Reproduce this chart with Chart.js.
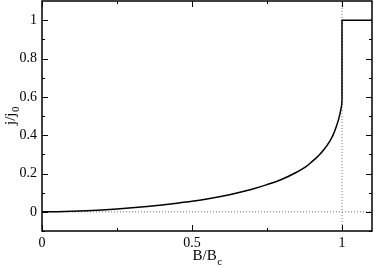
<!DOCTYPE html>
<html>
<head>
<meta charset="utf-8">
<script src="https://cdn.jsdelivr.net/npm/chart.js@4"></script>
<style>
  html, body { margin: 0; padding: 0; background: #fff; }
  #wrap { width: 374px; height: 267px; }
</style>
</head>
<body>
<div id="wrap"><canvas id="chart"></canvas></div>
<script>
// field B/Bc and current density j/j0
const curveB = [0, 0.05, 0.1, 0.15, 0.2, 0.25, 0.3, 0.35, 0.4, 0.45, 0.5, 0.55, 0.6, 0.65, 0.7, 0.75,
    0.8, 0.85, 0.88, 0.9, 0.92, 0.94, 0.96, 0.97, 0.98, 0.99, 0.995, 0.999, 1.0];
const curveJ = [0, 0.001, 0.003, 0.006, 0.010, 0.015, 0.021, 0.028, 0.036, 0.045, 0.055, 0.067, 0.081, 0.098, 0.118, 0.142,
    0.170, 0.208, 0.236, 0.262, 0.29, 0.325, 0.37, 0.40, 0.44, 0.49, 0.525, 0.56, 0.58];
// jump at B = Bc and the plateau above it
const stepB = [1.0, 1.0, 1.1];
const stepJ = [0.58, 1.0, 1.0];

// dotted reference lines
const zeroLineB = [0, 1.1];
const zeroLineJ = [0, 0];
const critLineB = [1, 1];
const critLineJ = [-0.1, 1.1];

const xTicks = [0, 0.5, 1];
const xMinorTicks = [0.25, 0.75];
const yTicks = [0, 0.2, 0.4, 0.6, 0.8, 1];
const yMinorTicks = [-0.1, 0.1, 0.3, 0.5, 0.7, 0.9];

const xTitle = ['B/B', 'c'];
const yTitle = ['j/j', '0'];

const FONT = '"Liberation Serif", "Times New Roman", serif';
const TITLE_SIZE = 15;
const SUB_SIZE = 11;

const toPoints = (xs, ys) => xs.map((x, i) => ({x, y: ys[i]}));

// frame, inward ticks on all four sides, and titles with subscripts
const framePlugin = {
    id: 'frame',
    afterDraw(chart) {
        const {ctx, chartArea: a, scales} = chart;
        ctx.save();
        ctx.strokeStyle = '#000';
        ctx.lineWidth = 1.5;
        ctx.strokeRect(a.left, a.top, a.right - a.left, a.bottom - a.top);

        ctx.lineWidth = 1;
        ctx.beginPath();
        const tickX = (v, len) => {
            const px = Math.round(scales.x.getPixelForValue(v)) + 0.5;
            ctx.moveTo(px, a.bottom); ctx.lineTo(px, a.bottom - len);
            ctx.moveTo(px, a.top); ctx.lineTo(px, a.top + len);
        };
        const tickY = (v, len) => {
            const py = Math.round(scales.y.getPixelForValue(v)) + 0.5;
            ctx.moveTo(a.left, py); ctx.lineTo(a.left + len, py);
            ctx.moveTo(a.right, py); ctx.lineTo(a.right - len, py);
        };
        xTicks.forEach(v => tickX(v, 6));
        xMinorTicks.forEach(v => tickX(v, 3));
        yTicks.forEach(v => tickY(v, 6));
        yMinorTicks.forEach(v => tickY(v, 3));
        ctx.stroke();

        ctx.fillStyle = '#000';
        ctx.textBaseline = 'alphabetic';
        ctx.textAlign = 'left';
        const mainFont = TITLE_SIZE + 'px ' + FONT;
        const subFont = SUB_SIZE + 'px ' + FONT;

        // x title
        ctx.font = mainFont;
        const mainW = ctx.measureText(xTitle[0]).width;
        ctx.font = subFont;
        const subW = ctx.measureText(xTitle[1]).width;
        const cx = (a.left + a.right) / 2;
        const bx = cx - (mainW + subW) / 2;
        const by = a.bottom + 29;
        ctx.font = mainFont;
        ctx.fillText(xTitle[0], bx, by);
        ctx.font = subFont;
        ctx.fillText(xTitle[1], bx + mainW + 0.5, by + 5);

        // y title, rotated
        ctx.save();
        ctx.translate(15, (a.top + a.bottom) / 2);
        ctx.rotate(-Math.PI / 2);
        ctx.font = mainFont;
        const yMainW = ctx.measureText(yTitle[0]).width;
        ctx.font = subFont;
        const ySubW = ctx.measureText(yTitle[1]).width;
        const sx = -(yMainW + ySubW) / 2;
        ctx.font = mainFont;
        ctx.fillText(yTitle[0], sx, 0);
        ctx.font = subFont;
        ctx.fillText(yTitle[1], sx + yMainW + 0.5, 4);
        ctx.restore();

        ctx.restore();
    }
};

const dotted = (xs, ys) => ({
    data: toPoints(xs, ys),
    showLine: true,
    borderColor: '#777',
    borderWidth: 1,
    borderDash: [1, 2],
    pointRadius: 0,
    order: 2
});

new Chart(document.getElementById('chart'), {
    type: 'scatter',
    data: {
        datasets: [
            dotted(zeroLineB, zeroLineJ),
            dotted(critLineB, critLineJ),
            {
                data: toPoints(curveB, curveJ),
                showLine: true,
                borderColor: '#000',
                borderWidth: 1.5,
                pointRadius: 0,
                cubicInterpolationMode: 'monotone',
                order: 1
            },
            {
                data: toPoints(stepB, stepJ),
                showLine: true,
                borderColor: '#000',
                borderWidth: 1.5,
                pointRadius: 0,
                tension: 0,
                order: 1
            }
        ]
    },
    options: {
        responsive: true,
        maintainAspectRatio: false,
        animation: false,
        events: [],
        layout: {padding: {top: 1, right: 2, left: 0, bottom: 0}},
        plugins: {legend: {display: false}, tooltip: {enabled: false}},
        scales: {
            x: {
                type: 'linear',
                min: 0,
                max: 1.1,
                afterBuildTicks: scale => { scale.ticks = xTicks.map(value => ({value})); },
                afterFit: scale => {
                    scale.height = 36;
                    scale.paddingLeft = 0;
                    scale.paddingRight = 0;
                },
                grid: {display: false, drawTicks: false},
                border: {display: false},
                ticks: {
                    padding: 4,
                    color: '#000',
                    font: {family: FONT, size: 14},
                    maxRotation: 0,
                    callback: v => String(v)
                }
            },
            y: {
                type: 'linear',
                min: -0.1,
                max: 1.1,
                afterBuildTicks: scale => { scale.ticks = yTicks.map(value => ({value})); },
                afterFit: scale => {
                    scale.width = 42;
                    scale.paddingTop = 0;
                    scale.paddingBottom = 0;
                },
                grid: {display: false, drawTicks: false},
                border: {display: false},
                ticks: {
                    padding: 5,
                    color: '#000',
                    font: {family: FONT, size: 14},
                    callback: v => String(v)
                }
            }
        }
    },
    plugins: [framePlugin]
});
</script>
</body>
</html>
